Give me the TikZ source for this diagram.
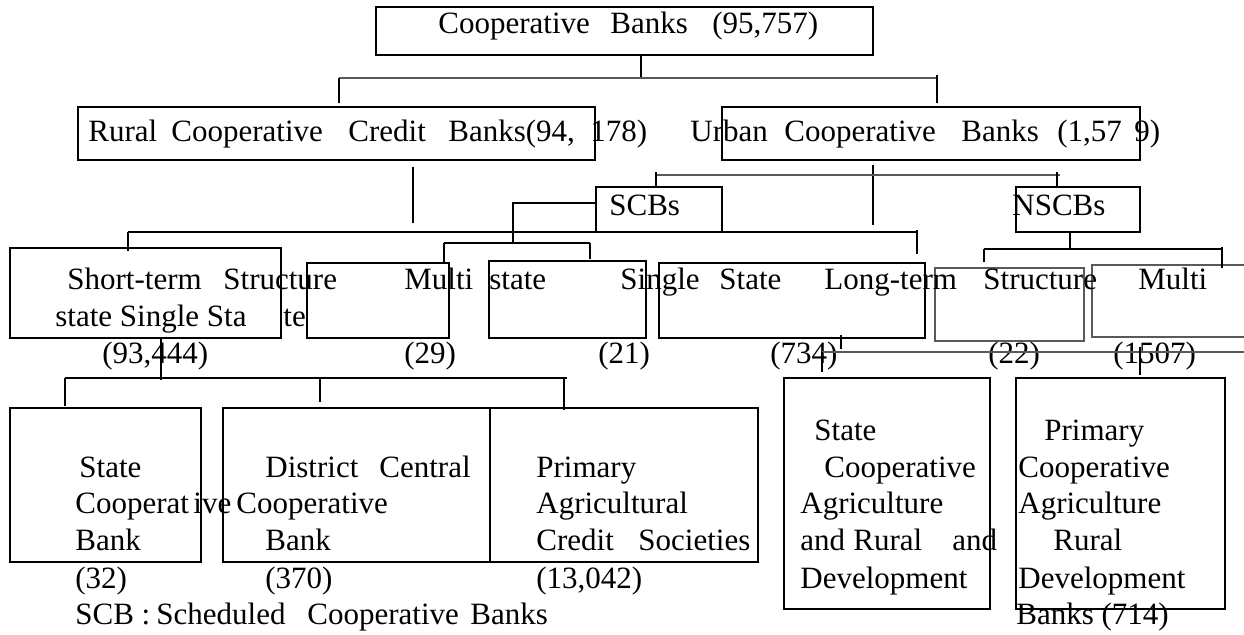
\documentclass[tikz,border=0pt]{standalone}
\usepackage{fontspec}
\setmainfont{Liberation Serif}
\usetikzlibrary{fit}
\tikzset{
    bankbox/.style={
    rectangle,draw=black,line width=0.9pt,inner sep=0pt,fit={#1}
    },
    gbankbox/.style={
    rectangle,draw=black!65,line width=0.9pt,inner sep=0pt,fit={#1}
    },
    lbl/.style={
    anchor=base west,inner sep=0pt,font=\fontsize{15.5}{18}\selectfont
    },
    link/.style={
    draw=black,line width=0.7pt
    },
    glink/.style={
    draw=black!65,line width=1pt
    },
}

\begin{document}
\begin{tikzpicture}[x=0.5pt,y=-0.5pt]
   \useasboundingbox (0,0) rectangle (1244,634);

   %boxes, top levels
   \node[bankbox={(376,7) (873,55)}] (coop) {};
   \node[bankbox={(78,107) (595,160)}] (rural) {};
   \node[bankbox={(722,107) (1140,160)}] (urban) {};
   \node[bankbox={(596,187) (722,232)}] (scbs) {};
   \node[bankbox={(1016,187) (1140,232)}] (nscbs) {};

   %boxes, structures
   \node[bankbox={(10,248) (281,338)}] (short) {};
   \node[bankbox={(307,263) (449,338)}] (multi) {};
   \node[bankbox={(489,261) (646,338)}] (single) {};
   \node[bankbox={(659,263) (925,338)}] (long) {};
   \node[gbankbox={(935,268) (1084,341)}] (umulti) {};
   \node[gbankbox={(1092,265) (1260,337)}] (usingle) {};

   %boxes, bottom level
   \node[bankbox={(10,408) (201,562)}] (stcb) {};
   \node[bankbox={(223,408) (490,562)}] (dccb) {};
   \node[bankbox={(490,408) (758,562)}] (pacs) {};
   \node[bankbox={(784,378) (990,609)}] (scardb) {};
   \node[bankbox={(1016,378) (1225,609)}] (pcardb) {};

   %texts
   \foreach \x/\w in {438/Cooperative, 610/Banks, 712/{(95,757)}}
     \node[lbl] (t0-\x) at (\x,33) {\w};
   \foreach \x/\w in {88/Rural, 171/Cooperative, 348/Credit, 448/{Banks(94,}, 590/178),
                      690/Urban, 784/Cooperative, 961/Banks, 1057/{(1,57}, 1134/9)}
     \node[lbl] (t1-\x) at (\x,141) {\w};
   \node[lbl] (t2-a) at (609,215) {SCBs};
   \node[lbl] (t2-b) at (1012,215) {NSCBs};
   \foreach \x/\w in {67/Short-term, 223/Structure, 404/Multi, 489/state, 620/Single, 719/State,
                      824/Long-term, 983/Structure, 1138/Multi}
     \node[lbl] (t3-\x) at (\x,289) {\w};
   \node[lbl] (t4-a) at (55,326) {state Single Sta};
   \node[lbl] (t4-b) at (283,326) {te};
   \foreach \x/\w in {102/{(93,444)}, 404/(29), 598/(21), 770/(734), 988/(22), 1113/(1507)}
     \node[lbl] (t5-\x) at (\x,363) {\w};

   \foreach \x/\w in {814/State, 1044/Primary}
     \node[lbl] (t6-\x) at (\x,440) {\w};
   \foreach \x/\w in {79/State, 265/District, 379/Central, 536/Primary, 824/Cooperative, 1018/Cooperative}
     \node[lbl] (t7-\x) at (\x,477) {\w};
   \foreach \x/\w in {75/Cooperat, 193/ive, 236/Cooperative, 536/Agricultural, 800/Agriculture, 1018/Agriculture}
     \node[lbl] (t8-\x) at (\x,513) {\w};
   \foreach \x/\w in {75/Bank, 265/Bank, 536/Credit, 638/Societies, 800/and, 853/Rural, 952/and, 1053/Rural}
     \node[lbl] (t9-\x) at (\x,550) {\w};
   \foreach \x/\w in {75/(32), 265/(370), 536/{(13,042)}, 800/Development, 1018/Development}
     \node[lbl] (t10-\x) at (\x,588) {\w};
   \foreach \x/\w in {75/SCB :, 156/Scheduled, 307/Cooperative, 470/Banks, 1016/Banks (714)}
     \node[lbl] (t11-\x) at (\x,624) {\w};

   %Cooperative Banks
   \coordinate (cb-mid) at (641,78);
   \coordinate (cb-l) at (339,78);
   \coordinate (cb-r) at (937,78);
   \draw[link] (coop.south -| cb-mid) -- (cb-mid);
   \draw[glink] (cb-l) -- (cb-r);
   \draw[link] (cb-l) -- ++(0,25);
   \draw[link] (cb-r) ++(0,-3) -- ++(0,28);

   %Rural and Urban
   \coordinate (rc-top) at (413,167);
   \draw[link] (rc-top) -- ++(0,56);
   \coordinate (uc-mid) at (873,165);
   \coordinate (uc-l) at (656,175);
   \coordinate (uc-r) at (1060,175);
   \draw[link] (uc-mid) -- ++(0,60);
   \draw[glink] (uc-l) -- (uc-r);
   \draw[link] (uc-l) ++(0,-3) -- (uc-l |- scbs.north);
   \draw[link] (1057,172) coordinate (uc-r2) -- (uc-r2 |- nscbs.north);

   %SCBs
   \coordinate (sc-a) at (513,203);
   \draw[link] (scbs.west |- sc-a) -- (sc-a) -- ++(0,40) coordinate (sc-b);
   \draw[link] (444,243) coordinate (sc-l) -- (590,243) coordinate (sc-r);
   \draw[link] (sc-l) -- ++(0,20);
   \draw[link] (sc-r) -- ++(0,16);

   %structures
   \coordinate (rb-l) at (128,232);
   \coordinate (rb-r) at (917,232);
   \draw[link] (rb-l) -- (rb-r);
   \draw[link] (rb-l) -- ++(0,19);
   \draw[link] (rb-r) ++(0,-2) -- ++(0,24);

   %NSCBs
   \coordinate (ns-mid) at (1070,249);
   \draw[link] (nscbs.south -| ns-mid) -- (ns-mid);
   \draw[link] (984,249) coordinate (ns-l) -- (1222,249) coordinate (ns-r);
   \draw[link] (ns-l) -- ++(0,13);
   \draw[link] (ns-r) ++(0,-2) -- ++(0,21);

   %short-term structure
   \coordinate (st-mid) at (161,380);
   \draw[link] (short.south -| st-mid) -- (st-mid);
   \draw[link] (65,378) coordinate (st-l) -- (567,378) coordinate (st-r);
   \draw[link] (st-l) -- ++(0,28);
   \draw[link] (320,378) coordinate (st-c) -- ++(0,24);
   \draw[link] (564,378) coordinate (st-r2) -- ++(0,32);

   %long-term structure
   \coordinate (lt-a) at (841,335);
   \draw[link] (lt-a) -- ++(0,14);
   \draw[glink] (822,352) coordinate (lt-l) -- (1260,352) coordinate (lt-r);
   \draw[link] (lt-l) -- ++(0,20);
   \draw[link] (1140,347) coordinate (lt-c) -- ++(0,28);
\end{tikzpicture}
\end{document}
